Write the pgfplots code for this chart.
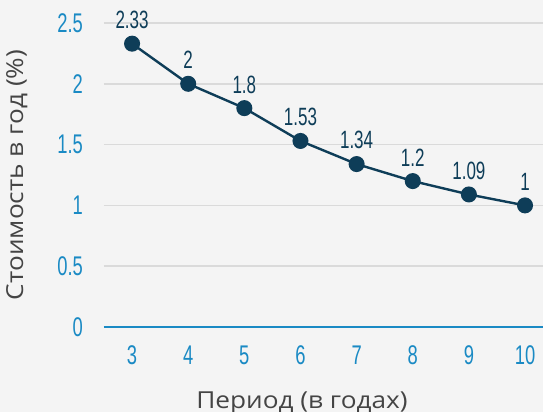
\documentclass[border=0pt]{standalone}
\usepackage{fontspec}
\setmainfont{Open Sans}
\newfontfamily\labfont[FakeStretch=1.12]{Open Sans}
\newfontfamily\condfont[FakeStretch=0.68]{Liberation Sans}
\usepackage{pgfplots}
\pgfplotsset{compat=1.18}
\definecolor{bgc}{HTML}{F4F4F4}
\definecolor{linec}{HTML}{0E3D58}
\definecolor{tickc}{HTML}{1A8AC4}
\definecolor{gridc}{HTML}{DADADA}
\definecolor{labc}{HTML}{444444}
\begin{document}
\begin{tikzpicture}[x=0.5pt,y=0.5pt]
\fill[bgc] (-104,-85) rectangle (439,327);
\begin{axis}[
  at={(0,0)}, anchor=south west,
  scale only axis, width=219.5pt, height=152pt,
  xmin=2.5, xmax=10.32, ymin=0, ymax=2.5,
  xtick={3,...,10}, ytick={0,0.5,1,1.5,2,2.5},
  yticklabels={0,0.5,1,1.5,2,2.5},
  axis line style={draw=none},
  major tick length=0pt,
  ymajorgrids, grid style={gridc, line width=0.8pt},
  tick label style={font=\condfont\fontsize{13.5}{15}\selectfont, text=tickc},
  /pgf/number format/assume math mode=true,
  yticklabel style={xshift=-7pt},
  xticklabel style={yshift=-6pt},
  xlabel={Период (в годах)},
  ylabel={Стоимость в год (\%)},
  label style={font=\labfont\fontsize{11.7}{14}\selectfont, text=labc},
  xlabel style={at={(axis description cs:0.451,-0.19)}, anchor=north},
  ylabel style={at={(axis description cs:-0.158,0.5)}, anchor=south},
  clip=false,
  nodes near coords,
  every node near coord/.append style={font=\condfont\fontsize{12.5}{14}\selectfont, text=linec, anchor=south, yshift=3.5pt},
]
\draw[tickc, line width=0.8pt] (axis cs:2.5,0) -- (axis cs:10.32,0);
\addplot[linec, line width=1.2pt, mark=*, mark size=3.4pt, mark options={fill=linec, draw=linec}] coordinates {
(3,2.33) (4,2) (5,1.8) (6,1.53) (7,1.34) (8,1.2) (9,1.09) (10,1)};
\end{axis}
\pgfresetboundingbox
\path[use as bounding box] (-104,-85) rectangle (439,327);
\end{tikzpicture}
\end{document}
